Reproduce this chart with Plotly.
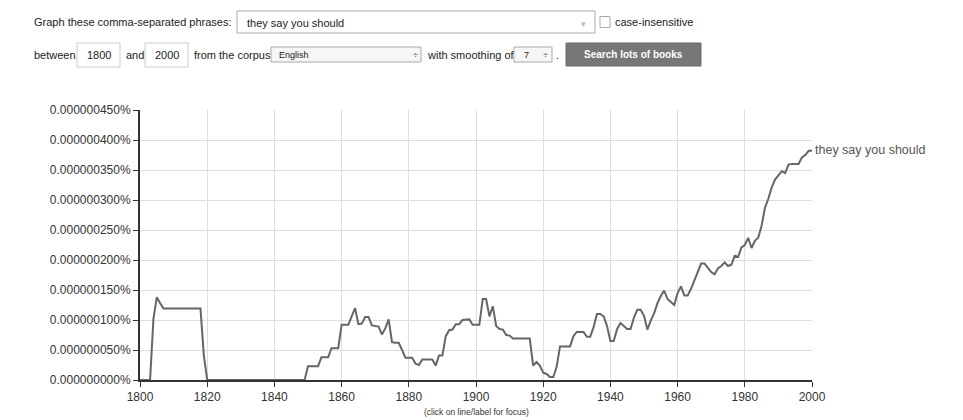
import plotly.graph_objects as go

# ---------------- data ----------------
phrase = "they say you should"
years = list(range(1800, 2001))
# frequency in units of 1e-9 percent (i.e. 100 -> 0.000000100%)
freq_e9 = [
    0, 0, 0, 0, 102, 138, 128, 119, 119, 119,            # 1800-1809
    119, 119, 119, 119, 119, 119, 119, 119, 119, 41,     # 1810-1819
    0, 0, 0, 0, 0, 0, 0, 0, 0, 0,                        # 1820-1829
    0, 0, 0, 0, 0, 0, 0, 0, 0, 0,                        # 1830-1839
    0, 0, 0, 0, 0, 0, 0, 0, 0, 0,                        # 1840-1849
    23, 23, 23, 23, 38, 38, 38, 53, 53, 53,              # 1850-1859
    92, 92, 92, 106, 120, 93, 94, 105, 105, 91,          # 1860-1869
    90, 89, 76, 86, 101, 63, 62, 62, 50, 37,             # 1870-1879
    37, 37, 27, 25, 34, 34, 34, 34, 24, 41,              # 1880-1889
    41, 73, 83, 84, 93, 93, 100, 101, 101, 92,           # 1890-1899
    92, 92, 135, 135, 106, 123, 90, 85, 84, 75,          # 1900-1909
    74, 69, 69, 69, 69, 69, 69, 24, 30, 24,              # 1910-1919
    12, 10, 5, 5, 22, 56, 56, 56, 56, 73,                # 1920-1929
    80, 80, 80, 72, 72, 88, 110, 110, 106, 90,           # 1930-1939
    65, 65, 85, 95, 90, 85, 85, 104, 117, 117,           # 1940-1949
    107, 84, 99, 111, 128, 140, 149, 135, 130, 125,      # 1950-1959
    145, 156, 141, 141, 152, 166, 180, 194, 194, 186,    # 1960-1969
    180, 176, 186, 190, 196, 190, 192, 207, 205, 221,    # 1970-1979
    225, 237, 220, 232, 237, 257, 287, 302, 321, 334,    # 1980-1989
    341, 348, 345, 359, 360, 360, 360, 371, 375, 382,    # 1990-1999
    382,                                                 # 2000
]
freq_pct = [v * 1e-9 for v in freq_e9]

x_ticks = list(range(1800, 2001, 20))
y_ticks_e9 = [0, 50, 100, 150, 200, 250, 300, 350, 400, 450]
y_ticks = [v * 1e-9 for v in y_ticks_e9]
y_ticktext = ["%.9f%%" % v for v in y_ticks]

# ---------------- layout geometry ----------------
W, H = 963, 420
L, R, T, B = 140, 151, 110, 40
PW, PH = W - L - R, H - T - B


def px(x):
    return (x - L) / PW


def py(y):
    return (H - B - y) / PH


FONT = "Liberation Sans, Arial, Helvetica, sans-serif"

fig = go.Figure()
fig.add_trace(go.Scatter(
    x=years, y=freq_pct, mode="lines",
    line=dict(color="#666666", width=2),
    name=phrase, showlegend=False, hoverinfo="x+y",
))

shapes = []
annotations = []


def text(x, y, s, size=11, color="#222222", anchor="left", bold=False, font=FONT):
    annotations.append(dict(
        x=px(x), y=py(y), xref="paper", yref="paper", text=("<b>%s</b>" % s) if bold else s,
        showarrow=False, xanchor=anchor, yanchor="middle",
        font=dict(size=size, color=color, family=font),
    ))


def box(x0, y0, x1, y1, line="#bbbbbb", fill="white", width=1):
    shapes.append(dict(
        type="rect", xref="paper", yref="paper",
        x0=px(x0), x1=px(x1), y0=py(y1), y1=py(y0),
        line=dict(color=line, width=width), fillcolor=fill, layer="above",
    ))


# ---- form row 1 ----
text(32, 22, "Graph these comma-separated phrases:", 11)
box(237, 11, 595, 33, line="#aaaaaa")
text(245, 23, phrase, 11)
text(583, 24, "▾", 9, color="#bbbbbb", anchor="center")
box(600, 16.5, 610, 27.5, line="#aaaaaa")
text(613, 22, "case-insensitive", 11)

# ---- form row 2 ----
text(32, 55, "between", 11)
box(77, 43, 120, 67, line="#cccccc")
text(98.5, 55, "1800", 11, anchor="center")
text(124, 55, "and", 11)
box(145, 43, 188, 67, line="#cccccc")
text(166.5, 55, "2000", 11, anchor="center")
text(192, 55, "from the corpus", 11)
box(271, 47, 421, 62, line="#aaaaaa", fill="#f6f6f6")
text(277, 55, "English", 9)
text(415, 55, "÷", 9, anchor="center", color="#444444")
text(425, 55, "with smoothing of", 11)
box(514, 47, 552, 62, line="#aaaaaa", fill="#f6f6f6")
text(522, 55, "7", 9)
text(545, 55, "÷", 9, anchor="center", color="#444444")
text(554, 55, ".", 11)
box(566, 43, 701, 66, line="#6a6a6a", fill="#777777")
text(633.5, 55, "Search lots of books", 10, color="white", anchor="center", bold=True)

# ---- series label & footer ----
annotations.append(dict(
    x=years[-1], y=freq_pct[-1], xref="x", yref="y", text=phrase,
    showarrow=False, xanchor="left", yanchor="middle", xshift=1, yshift=1,
    font=dict(size=12.5, color="#555555", family=FONT),
))
text(476, 412, "(click on line/label for focus)", 8.5, color="#333333", anchor="center")

fig.update_layout(
    width=W, height=H,
    margin=dict(l=L, r=R, t=T, b=B, pad=0),
    paper_bgcolor="white", plot_bgcolor="white",
    shapes=shapes, annotations=annotations,
    font=dict(family=FONT, color="#333333"),
    xaxis=dict(
        range=[1800, 2000], tickvals=x_ticks, ticktext=[str(v) for v in x_ticks],
        showgrid=True, gridcolor="#dddddd", gridwidth=1,
        showline=True, linecolor="#333333", linewidth=2,
        ticks="outside", ticklen=5, tickcolor="#333333", tickwidth=1,
        tickfont=dict(size=12, color="#333333", family=FONT),
        zeroline=False, fixedrange=True,
    ),
    yaxis=dict(
        range=[0, 4.5e-7], tickvals=y_ticks, ticktext=y_ticktext,
        showgrid=True, gridcolor="#dddddd", gridwidth=1,
        showline=True, linecolor="#333333", linewidth=2,
        ticks="outside", ticklen=5, tickcolor="#333333", tickwidth=1,
        tickfont=dict(size=12, color="#333333", family=FONT),
        zeroline=False, fixedrange=True,
    ),
    showlegend=False,
)

fig.write_html(
    "out.html",
    config={"displayModeBar": False},
    post_script="document.body.style.margin='0';document.body.style.overflow='hidden';",
)
